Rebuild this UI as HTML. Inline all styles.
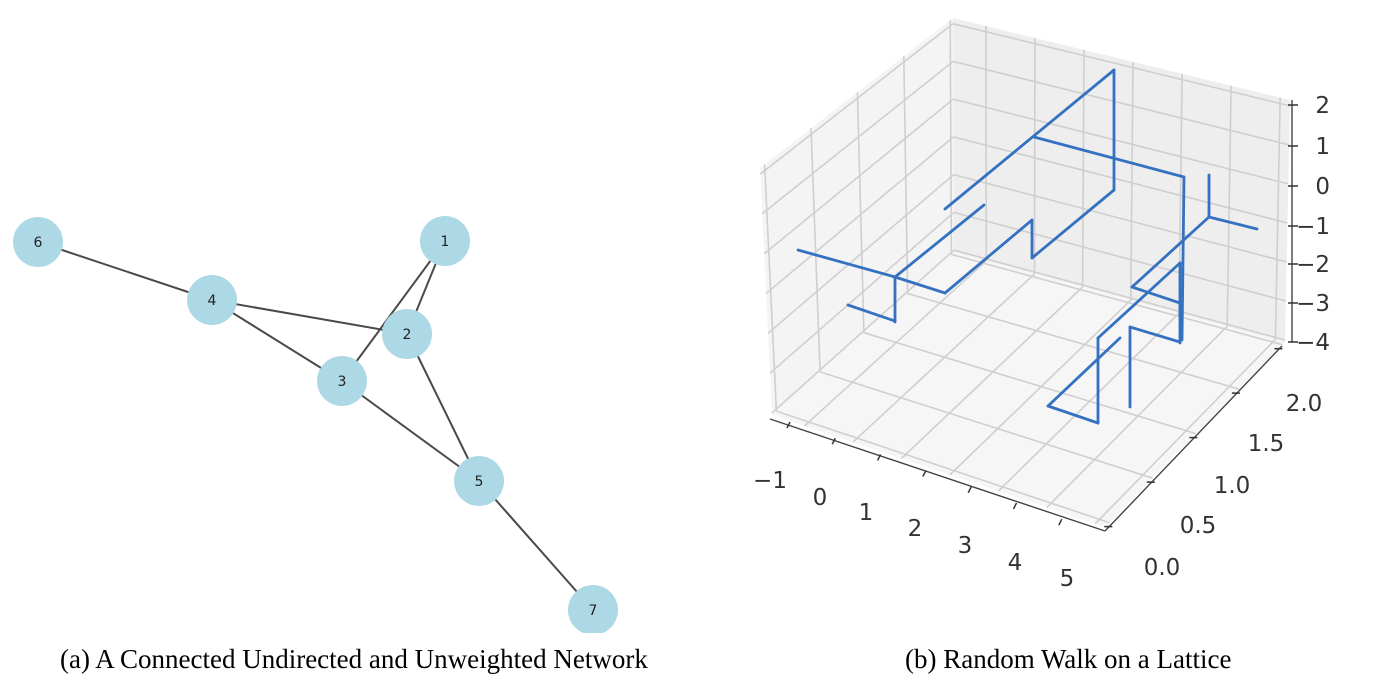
<!DOCTYPE html>
<html><head><meta charset="utf-8">
<style>
html,body{margin:0;padding:0;background:#fff;width:1374px;height:663px;overflow:hidden}
svg{position:absolute;left:0;top:0}
.cap{position:absolute;font-family:"Liberation Serif",serif;font-size:27px;color:#000;white-space:nowrap}
</style></head>
<body>
<svg id="s" width="1374" height="663" viewBox="0 0 1374 663" xmlns="http://www.w3.org/2000/svg">
 <defs><clipPath id="lc"><rect x="0" y="0" width="700" height="633"/></clipPath></defs>
 <g clip-path="url(#lc)" stroke="#4a4a4a" stroke-width="2">
  <line x1="38" y1="242" x2="212" y2="300"/>
  <line x1="212" y1="300" x2="407" y2="334"/>
  <line x1="212" y1="300" x2="342" y2="381"/>
  <line x1="445" y1="241" x2="407" y2="334"/>
  <line x1="445" y1="241" x2="342" y2="381"/>
  <line x1="342" y1="381" x2="479" y2="481"/>
  <line x1="407" y1="334" x2="479" y2="481"/>
  <line x1="479" y1="481" x2="593" y2="610"/>
 </g>
 <g clip-path="url(#lc)" fill="#add8e6">
  <circle cx="38" cy="242" r="25"/><circle cx="212" cy="300" r="25"/>
  <circle cx="445" cy="241" r="25"/><circle cx="407" cy="334" r="25"/>
  <circle cx="342" cy="381" r="25"/><circle cx="479" cy="481" r="25"/>
  <circle cx="593" cy="610" r="25"/>
 </g>
 <g clip-path="url(#lc)" font-family="DejaVu Sans, sans-serif" font-size="14" fill="#222" text-anchor="middle">
  <text x="38" y="247">6</text><text x="212" y="305">4</text><text x="445" y="246">1</text>
  <text x="407" y="339">2</text><text x="342" y="386">3</text><text x="479" y="486">5</text>
  <text x="593" y="615">7</text>
 </g>
 <g id="g3"></g>
</svg>
<div class="cap" style="left:60px;top:644px">(a) A Connected Undirected and Unweighted Network</div>
<div class="cap" style="left:905px;top:644px">(b) Random Walk on a Lattice</div>
<script>
(function(){
var A=[772,415],B=[1105,527],C=[1285,342],D=[954,252];
var At=[760,168],Bt=[1100,268],Ct=[1290,100],Dt=[953,18];
function bl(p00,p10,p11,p01,u,v){return [p00[0]*(1-u)*(1-v)+p10[0]*u*(1-v)+p11[0]*u*v+p01[0]*(1-u)*v,
 p00[1]*(1-u)*(1-v)+p10[1]*u*(1-v)+p11[1]*u*v+p01[1]*(1-u)*v];}
function P(u,v,w){var f=bl(A,B,C,D,u,v),t=bl(At,Bt,Ct,Dt,u,v);return [f[0]+(t[0]-f[0])*w,f[1]+(t[1]-f[1])*w];}
function ux(x){return (x+1.67)/6.87;} function vy(y){return (y+0.05)/2.08;} function wz(z){return (z+4.05)/6.2;}
var s='';
function poly(pts,fill){s+='<polygon points="'+pts.map(function(p){return p[0].toFixed(1)+','+p[1].toFixed(1)}).join(' ')+'" fill="'+fill+'"/>';}
function ln(p,q,c,w){s+='<line x1="'+p[0].toFixed(1)+'" y1="'+p[1].toFixed(1)+'" x2="'+q[0].toFixed(1)+'" y2="'+q[1].toFixed(1)+'" stroke="'+c+'" stroke-width="'+w+'"/>';}
poly([P(0,0,0),P(0,1,0),P(0,1,1),P(0,0,1)],'#f4f4f4');
poly([P(0,1,0),P(1,1,0),P(1,1,1),P(0,1,1)],'#eeeeee');
poly([P(0,0,0),P(1,0,0),P(1,1,0),P(0,1,0)],'#f6f6f6');
var g='#cfcfcf',gw=1.6,i,x,y,z;
for(x=-1;x<=5;x++){ln(P(ux(x),0,0),P(ux(x),1,0),g,gw);ln(P(ux(x),1,0),P(ux(x),1,1),g,gw);}
for(y=0;y<=2;y+=0.5){ln(P(0,vy(y),0),P(1,vy(y),0),g,gw);ln(P(0,vy(y),0),P(0,vy(y),1),g,gw);}
for(z=-4;z<=2;z++){ln(P(0,0,wz(z)),P(0,1,wz(z)),g,gw);ln(P(0,1,wz(z)),P(1,1,wz(z)),g,gw);}
// axes
var YA=[1105,531],YB=[1282,346];
ln([770,419],YA,'#444',1.4);
ln(YA,YB,'#444',1.4);
ln([1292,100],[1292,342],'#444',1.4);
for(x=-1;x<=5;x++){var tx=790+(x+1)*45.3,ty=425+(x+1)*16.2;ln([tx,ty-3],[tx-3,ty+3],'#333',1.5);}
for(y=0;y<=2;y+=0.5){var t=vy(y);var px=YA[0]+(YB[0]-YA[0])*t,py=YA[1]+(YB[1]-YA[1])*t;ln([px-5,py],[px+3,py],'#333',1.5);}
var zy=[342,303,264,226,186,146,105];
for(i=0;i<7;i++){ln([1288,zy[i]],[1298,zy[i]],'#333',1.5);}
// walk
var segs=[[798,250,895,277],[895,277,895,322],[848,305,895,321],[895,277,984,205],[895,277,945,293],
[945,293,1032,220],[1032,220,1032,258],[1032,258,1114,190],[1114,190,1114,70],[1114,70,945,209],
[1034,137,1184,177],[1184,177,1182,340],[1209,175,1209,217],[1209,217,1257,229],[1209,217,1132,287],
[1132,287,1180,303],[1180,263,1180,343],[1180,342,1130,327],[1130,327,1130,407],[1180,263,1098,338],
[1098,338,1098,423],[1098,423,1048,406],[1048,406,1120,338]];
segs.forEach(function(q){s+='<line x1="'+q[0]+'" y1="'+q[1]+'" x2="'+q[2]+'" y2="'+q[3]+'" stroke="#3471c1" stroke-width="2.8" stroke-linecap="round"/>';});
// labels
var f='font-family="DejaVu Sans, sans-serif" font-size="23" fill="#333"';
var xl=[['\u22121',770,488],['0',820,505],['1',866,520],['2',915,536],['3',965,553],['4',1015,570],['5',1067,586]];
xl.forEach(function(l){s+='<text x="'+l[1]+'" y="'+l[2]+'" text-anchor="middle" '+f+'>'+l[0]+'</text>';});
var yl=[['0.0',1162,575],['0.5',1198,533],['1.0',1232,493],['1.5',1266,451],['2.0',1304,411]];
yl.forEach(function(l){s+='<text x="'+l[1]+'" y="'+l[2]+'" text-anchor="middle" '+f+'>'+l[0]+'</text>';});
var zl=['\u22124','\u22123','\u22122','\u22121','0','1','2'];
for(i=0;i<7;i++){s+='<text x="1330" y="'+(zy[i]+8)+'" text-anchor="end" '+f+'>'+zl[i]+'</text>';}
document.getElementById('g3').innerHTML=s;
})();
</script>
</body></html>
